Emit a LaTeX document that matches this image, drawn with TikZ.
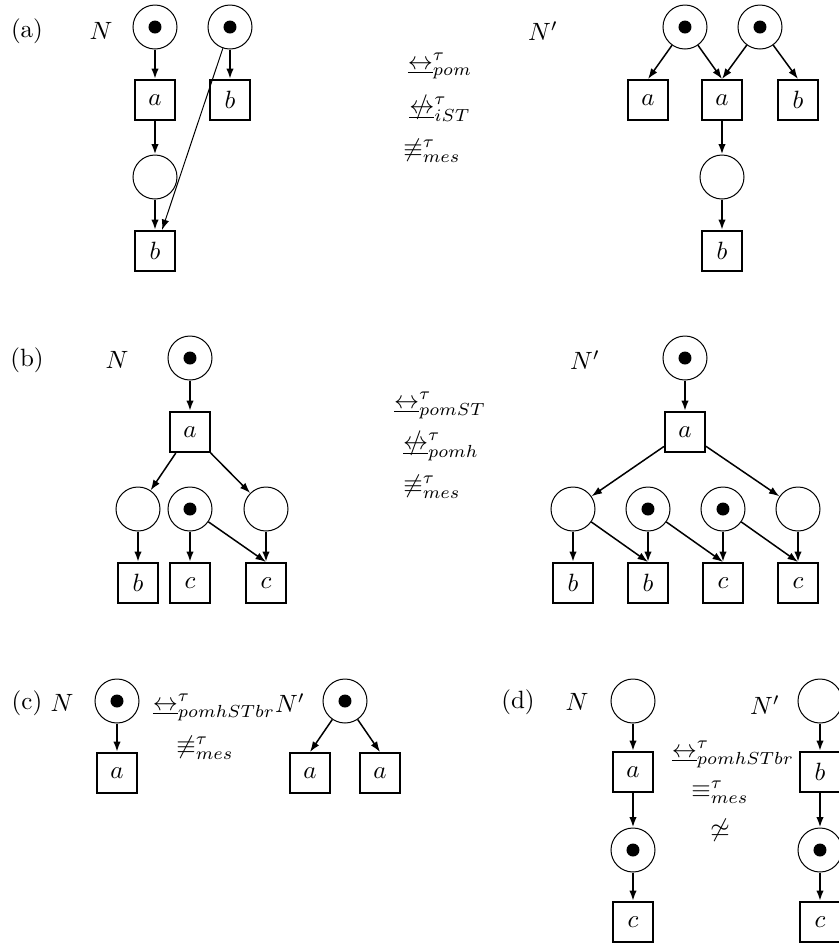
\documentclass[tikz,border=0pt]{standalone}
\usetikzlibrary{arrows.meta}
\newcommand{\bis}{\underline{\leftrightarrow}}
\newcommand{\nbis}{\mathrel{\ooalign{$\underline{\leftrightarrow}$\cr\hidewidth$/$\hidewidth\cr}}}
\begin{document}
\begin{tikzpicture}[x=0.4pt,y=-0.4pt,
    place/.style={circle,draw,line width=0.4pt,minimum size=17.6pt,inner sep=0pt},
    marked/.style={place,path picture={\fill (path picture bounding box.center) circle (2.6pt);}},
    trans/.style={draw,line width=0.8pt,minimum size=16pt,inner sep=0pt},
    arc/.style={-{Latex[length=4.2pt,width=3pt]},line width=0.8pt},
    slant/.style={arc,line width=0.6pt},
    rel/.style={inner sep=0pt}]
    \useasboundingbox (0,0) rectangle (839,943);
    % (a)
    \node (la) at (27,31) {(a)};
    \node (aN) at (101,31) {$N$};
    \node[marked] (a1) at (155,27) {};
    \node[marked] (a2) at (230,27) {};
    \node[trans] (a3) at (155,100) {$a$};
    \node[trans] (a4) at (230,100) {$b$};
    \node[place] (a5) at (155,177) {};
    \node[trans] (a6) at (155,251) {$b$};
    \draw[arc] (a1) -- (a3);
    \draw[arc] (a3) -- (a5);
    \draw[arc] (a5) -- (a6);
    \draw[arc] (a2) -- (a4);
    \draw[arc,line width=0.4pt] (a2) -- (a6);
    \node[rel] (ar1) at (440,66) {$\bis^{\tau}_{pom}$};
    \node[rel] (ar2) at (440,109) {$\nbis^{\tau}_{iST}$};
    \node[rel] (ar3) at (432,151) {$\not\equiv^{\tau}_{mes}$};
    \node (aM) at (543,31) {$N'$};
    \node[marked] (b1) at (685,27) {};
    \node[marked] (b2) at (760,27) {};
    \node[trans] (b3) at (648,100) {$a$};
    \node[trans] (b4) at (722,100) {$a$};
    \node[trans] (b5) at (798,100) {$b$};
    \node[place] (b6) at (722,177) {};
    \node[trans] (b7) at (722,251) {$b$};
    \draw[slant] (b1) -- (b3.north);
    \draw[slant] (b1) -- (b4.north);
    \draw[slant] (b2) -- (b4.north);
    \draw[slant] (b2) -- (b5.north);
    \draw[arc] (b4) -- (b6);
    \draw[arc] (b6) -- (b7);
    % (b)
    \node (lb) at (27,360) {(b)};
    \node (bN) at (117,360) {$N$};
    \node[marked] (c1) at (190,358) {};
    \node[trans] (c2) at (190,432) {$a$};
    \node[place] (c3) at (138,509) {};
    \node[marked] (c4) at (190,509) {};
    \node[place] (c5) at (266,509) {};
    \node[trans] (c6) at (138,583) {$b$};
    \node[trans] (c7) at (190,583) {$c$};
    \node[trans] (c8) at (266,583) {$c$};
    \draw[arc] (c1) -- (c2);
    \draw[slant] (c2) -- (c3);
    \draw[slant] (c2) -- (c5);
    \draw[arc] (c3) -- (c6);
    \draw[arc] (c4) -- (c7);
    \draw[slant] (c4) -- (c8.north);
    \draw[arc] (c5) -- (c8);
    \node[rel] (br1) at (440,405) {$\bis^{\tau}_{pomST}$};
    \node[rel] (br2) at (441,447) {$\nbis^{\tau}_{pomh}$};
    \node[rel] (br3) at (432,487) {$\not\equiv^{\tau}_{mes}$};
    \node (bM) at (585,360) {$N'$};
    \node[marked] (d1) at (685,358) {};
    \node[trans] (d2) at (685,432) {$a$};
    \node[place] (d3) at (573,509) {};
    \node[marked] (d4) at (648,509) {};
    \node[marked] (d5) at (723,509) {};
    \node[place] (d6) at (798,509) {};
    \node[trans] (d7) at (573,583) {$b$};
    \node[trans] (d8) at (648,583) {$b$};
    \node[trans] (d9) at (723,583) {$c$};
    \node[trans] (d10) at (798,583) {$c$};
    \draw[arc] (d1) -- (d2);
    \draw[slant] (d2) -- (d3);
    \draw[slant] (d2) -- (d6);
    \draw[arc] (d3) -- (d7);
    \draw[slant] (d3) -- (d8.north);
    \draw[arc] (d4) -- (d8);
    \draw[slant] (d4) -- (d9.north);
    \draw[arc] (d5) -- (d9);
    \draw[slant] (d5) -- (d10.north);
    \draw[arc] (d6) -- (d10);
    % (c)
    \node (lc) at (27,703) {(c)};
    \node (cN) at (62,703) {$N$};
    \node[marked] (e1) at (117,701) {};
    \node[trans] (e2) at (117,773) {$a$};
    \draw[arc] (e1) -- (e2);
    \node[rel] (cr1) at (214,707) {$\bis^{\tau}_{pomhSTbr}$};
    \node[rel] (cr2) at (205,748) {$\not\equiv^{\tau}_{mes}$};
    \node (cM) at (290,703) {$N'$};
    \node[marked] (f1) at (345,701) {};
    \node[trans] (f2) at (310,773) {$a$};
    \node[trans] (f3) at (380,773) {$a$};
    \draw[slant] (f1) -- (f2.north);
    \draw[slant] (f1) -- (f3.north);
    % (d)
    \node (ld) at (518,702) {(d)};
    \node (dN) at (577,702) {$N$};
    \node[place] (g1) at (633,701) {};
    \node[trans] (g2) at (633,772) {$a$};
    \node[marked] (g3) at (633,850) {};
    \node[trans] (g4) at (633,922) {$c$};
    \draw[arc] (g1) -- (g2);
    \draw[arc] (g2) -- (g3);
    \draw[arc] (g3) -- (g4);
    \node[rel] (dr1) at (733,754) {$\bis^{\tau}_{pomhSTbr}$};
    \node[rel] (dr2) at (720,792) {$\equiv^{\tau}_{mes}$};
    \node[rel] (dr3) at (720,830) {$\not\simeq$};
    \node (dM) at (765,705) {$N'$};
    \node[place] (h1) at (820,701) {};
    \node[trans] (h2) at (820,772) {$b$};
    \node[marked] (h3) at (820,850) {};
    \node[trans] (h4) at (820,922) {$c$};
    \draw[arc] (h1) -- (h2);
    \draw[arc] (h2) -- (h3);
    \draw[arc] (h3) -- (h4);
\end{tikzpicture}
\end{document}
